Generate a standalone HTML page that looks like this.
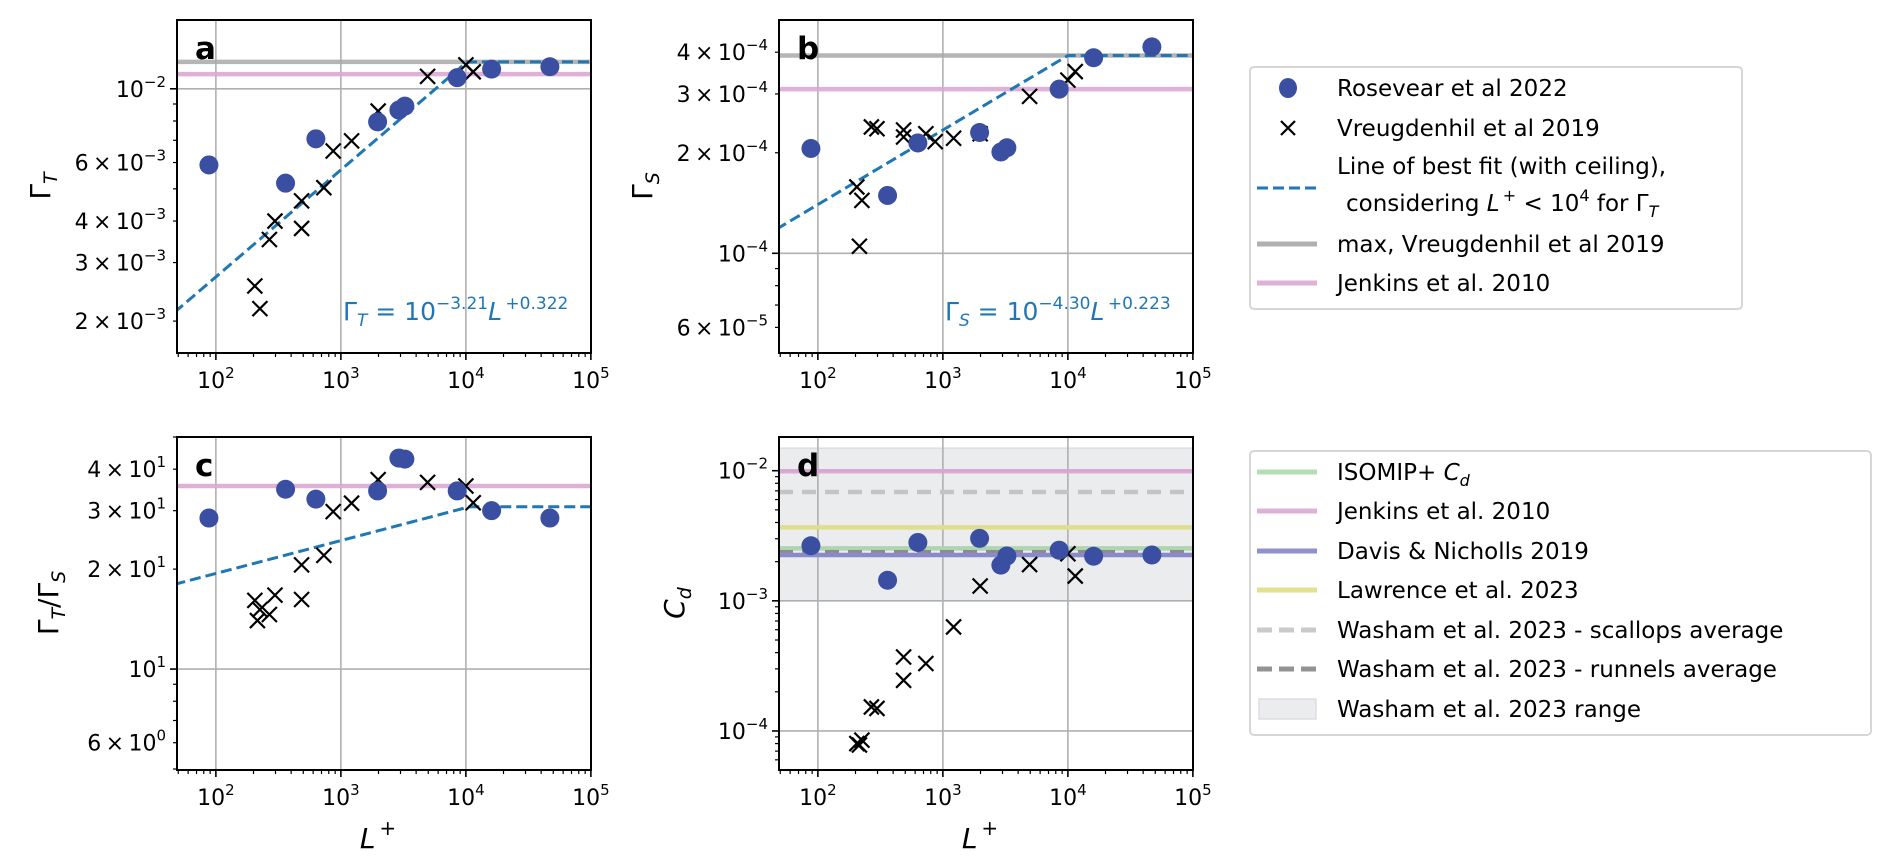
<!DOCTYPE html>
<html><head><meta charset="utf-8"><title>Transfer coefficients vs L+</title>
<style>
html,body{margin:0;padding:0;background:#fff;}
svg{display:block;font-family:"DejaVu Sans","Liberation Sans",sans-serif;}
</style></head>
<body>
<svg id="fig" width="1892" height="868" viewBox="0 0 1892 868" xmlns="http://www.w3.org/2000/svg"></svg>
<script>
// ---------- data ----------
const L_ROSE = [88, 361, 631, 1967, 2911, 3251, 8520, 16070, 47000];
const L_VREU = [205, 215, 225, 268, 297, 485, 485, 731, 868, 1218, 1987, 4940, 10000, 11450];
const GT_ROSE = [5.9e-3, 5.2e-3, 7.07e-3, 7.95e-3, 8.63e-3, 8.87e-3, 1.08e-2, 1.146e-2, 1.165e-2];
const GT_VREU = [2.55e-3, 1.47e-3, 2.18e-3, 3.52e-3, 4.0e-3, 3.8e-3, 4.6e-3, 5.04e-3, 6.5e-3, 6.97e-3, 8.57e-3, 1.09e-2, 1.18e-2, 1.125e-2];
const GS_ROSE = [2.06e-4, 1.49e-4, 2.14e-4, 2.30e-4, 2.01e-4, 2.07e-4, 3.1e-4, 3.85e-4, 4.15e-4];
const GS_VREU = [1.58e-4, 1.05e-4, 1.44e-4, 2.39e-4, 2.36e-4, 2.34e-4, 2.23e-4, 2.28e-4, 2.16e-4, 2.21e-4, 2.28e-4, 2.95e-4, 3.3e-4, 3.5e-4];
const RATIO_ROSE = [28.5, 34.8, 32.5, 34.4, 43.2, 42.9, 34.4, 30.0, 28.5];
const RATIO_VREU = [16.1, 14.0, 15.1, 14.6, 16.7, 16.2, 20.6, 22.0, 29.8, 31.6, 37.2, 36.5, 35.6, 31.7];
const CD_ROSE = [2.65e-3, 1.44e-3, 2.81e-3, 3.02e-3, 1.88e-3, 2.21e-3, 2.45e-3, 2.2e-3, 2.25e-3];
const CD_VREU = [8.0e-5, 7.8e-5, 8.5e-5, 1.53e-4, 1.49e-4, 2.45e-4, 3.7e-4, 3.3e-4, null, 6.3e-4, 1.3e-3, 1.9e-3, 2.3e-3, 1.55e-3];
const FIT_T = [-3.21, 0.322];
const FIT_S = [-4.30, 0.223];
const MAX_T = 1.205e-2, MAX_S = 3.91e-4;
const JENKINS_T = 1.107e-2, JENKINS_S = 3.1e-4, JENKINS_R = 35.6, JENKINS_CD = 9.9e-3;
const ISOMIP_CD = 2.53e-3, DAVIS_CD = 2.25e-3, LAWRENCE_CD = 3.67e-3;
const SCALLOPS_CD = 6.86e-3, RUNNELS_CD = 2.36e-3;
const RANGE_CD = [1.0e-3, 1.49e-2];
const X_TICKS = [2, 3, 4, 5];

// ---------- helpers ----------
const NS = "http://www.w3.org/2000/svg";
const svg = document.getElementById("fig");
function el(tag, attrs, parent) {
  const e = document.createElementNS(NS, tag);
  for (const k in attrs) e.setAttribute(k, attrs[k]);
  (parent || svg).appendChild(e);
  return e;
}
const XMIN = 1.689, DEC = 125;
function makePanel(left, top, ylo, yhi, id) {
  const w = 414, h = 333;
  const p = {left, top, w, h, ylo, yhi, id};
  p.x = v => left + (Math.log10(v) - XMIN) * DEC;
  p.y = v => top + h - (Math.log10(v) - ylo) / (yhi - ylo) * h;
  const cp = el("clipPath", {id: "clip-" + id});
  el("rect", {x: left, y: top, width: w, height: h}, cp);
  p.g = el("g", {"clip-path": "url(#clip-" + id + ")"});
  
  
  return p;
}
function gridAndTicks(p, majors, labeledMinors) {
  // vertical grid
  for (const e of X_TICKS) {
    if (e >= 5) continue;
    const gx = p.x(Math.pow(10, e));
    const l = el("line", {x1: gx, x2: gx, y1: p.top, y2: p.top + p.h, stroke: "#b0b0b0", "stroke-width": 1.6}, p.g);
    
    
  }
  for (const m of majors) {
    const gy = p.y(Math.pow(10, m));
    const l = el("line", {x1: p.left, x2: p.left + p.w, y1: gy, y2: gy, stroke: "#b0b0b0", "stroke-width": 1.6}, p.g);
    
    
  }
}
function axesFrame(p, majors, labeledMinors, showXLabels) {
  const ax = el("g", {});
  
  
  el("rect", {x: p.left, y: p.top, width: p.w, height: p.h, fill: "none", stroke: "#000", "stroke-width": 2}, ax);
  // x ticks
  for (let d = 1; d <= 5; d++) {
    for (let k = 1; k <= 9; k++) {
      const v = k * Math.pow(10, d);
      const lv = Math.log10(v);
      if (lv < XMIN - 1e-6 || lv > 5 + 1e-6) continue;
      const tx = p.x(v);
      const major = (k === 1);
      el("line", {x1: tx, x2: tx, y1: p.top + p.h, y2: p.top + p.h + (major ? 7 : 4), stroke: "#000", "stroke-width": major ? 1.6 : 1.2}, ax);
    }
  }
  for (const e of X_TICKS) {
    const t = el("text", {x: p.x(Math.pow(10, e)), y: p.top + p.h + 35, "font-size": 22, "text-anchor": "middle", fill: "#000"}, ax);
    
    
    t.appendChild(document.createTextNode("10"));
    const s = el("tspan", {"font-size": 15, dy: -10}, t);
    s.textContent = String(e);
  }
  // y ticks
  for (let d = -6; d <= 2; d++) {
    for (let k = 1; k <= 9; k++) {
      const v = k * Math.pow(10, d);
      const lv = Math.log10(v);
      if (lv < p.ylo - 1e-4 || lv > p.yhi + 1e-4) continue;
      const ty = p.y(v);
      const major = (k === 1);
      el("line", {x1: p.left, x2: p.left - (major ? 7 : 4), y1: ty, y2: ty, stroke: "#000", "stroke-width": major ? 1.6 : 1.2}, ax);
    }
  }
  for (const m of majors) {
    const t = el("text", {x: p.left - 11, y: p.y(Math.pow(10, m)) + 8, "font-size": 22, "text-anchor": "end", fill: "#000"}, ax);
    
    
    t.appendChild(document.createTextNode("10"));
    const s = el("tspan", {"font-size": 15, dy: -10}, t);
    s.textContent = (m < 0 ? "\u2212" + (-m) : String(m));
  }
  for (const [k, e] of labeledMinors) {
    const t = el("text", {x: p.left - 11, y: p.y(k * Math.pow(10, e)) + 8, "font-size": 22, "text-anchor": "end", fill: "#000"}, ax);
    
    
    t.appendChild(document.createTextNode(k + "\u2009\u00d7\u200910"));
    const s = el("tspan", {"font-size": 15, dy: -10}, t);
    s.textContent = (e < 0 ? "\u2212" + (-e) : String(e));
  }
  return ax;
}
function hline(p, v, color, width, dash, name, opacity) {
  const a = {x1: p.left, x2: p.left + p.w, y1: p.y(v), y2: p.y(v), stroke: color, "stroke-width": width};
  if (dash) a["stroke-dasharray"] = dash;
  if (opacity) a["stroke-opacity"] = opacity;
  const l = el("line", a, p.g);
  
  
}
function fitLine(p, fitA, fitB, ceiling, name) {
  // compute ratio fits when arrays given
  const f = L => {
    let v;
    if (Array.isArray(fitA[0])) {
      const t = Math.min(Math.pow(10, fitA[0][0]) * Math.pow(L, fitA[0][1]), fitA[1]);
      const s = Math.min(Math.pow(10, fitB[0][0]) * Math.pow(L, fitB[0][1]), fitB[1]);
      v = t / s;
    } else {
      v = Math.min(Math.pow(10, fitA[0]) * Math.pow(L, fitA[1]), ceiling);
    }
    return v;
  };
  const pts = [];
  for (let lv = XMIN - 0.02; lv <= 5.02; lv += 0.01) {
    const L = Math.pow(10, lv);
    pts.push(p.x(L).toFixed(2) + "," + p.y(f(L)).toFixed(2));
  }
  const pl = el("polyline", {points: pts.join(" "), fill: "none", stroke: "#1f77b4", "stroke-width": 3, "stroke-dasharray": "11,5"}, p.g);
  
  
}
function dots(p, xs, ys, name) {
  xs.forEach((L, i) => {
    if (ys[i] == null) return;
    const c = el("circle", {cx: p.x(L), cy: p.y(ys[i]), r: 9.5, fill: "#3a4ea2"}, p.g);
    
    
  });
}
function crosses(p, xs, ys, name) {
  xs.forEach((L, i) => {
    if (ys[i] == null) return;
    const cx = p.x(L), cy = p.y(ys[i]), s = 7.5;
    const g = el("path", {d: `M${cx - s},${cy - s}L${cx + s},${cy + s}M${cx - s},${cy + s}L${cx + s},${cy - s}`, stroke: "#000", "stroke-width": 2.2, fill: "none"}, p.g);
    
    
  });
}
function panelLetter(p, ch) {
  const t = el("text", {x: p.left + 18, y: p.top + 39, "font-size": 31, "font-weight": "bold", fill: "#000"});
  
  
  t.textContent = ch;
}
function ylabel(x, y, main, sub, name, extra) {
  const t = el("text", {x: 0, y: 0, "font-size": 28, "text-anchor": "middle", fill: "#000", transform: `translate(${x},${y}) rotate(-90)`});
  
  
  const parts = extra || [[main, sub]];
  parts.forEach(([m, s], i) => {
    const a = el("tspan", {}, t); a.textContent = m;
    const b = el("tspan", {"font-size": 19, dy: 7, "font-style": "italic"}, t); b.textContent = s;
    if (i < parts.length - 1) { const c = el("tspan", {dy: -7}, t); c.textContent = "/"; }
  });
}
function xlabel(p) {
  const t = el("text", {x: p.left + p.w / 2 - 6, y: 848, "font-size": 28, "text-anchor": "middle", fill: "#000"});
  
  
  const a = el("tspan", {"font-style": "italic"}, t); a.textContent = "L";
  const b = el("tspan", {"font-size": 20, dy: -13}, t); b.textContent = "\u2009+";
}
function fitText(x, y, sym, expo, pw, name) {
  const t = el("text", {x, y, "font-size": 25, fill: "#1f77b4"});
  
  
  const a = el("tspan", {}, t); a.textContent = "\u0393";
  const b = el("tspan", {"font-size": 17, dy: 6, "font-style": "italic"}, t); b.textContent = sym;
  const c = el("tspan", {dy: -6}, t); c.textContent = " = 10";
  const d = el("tspan", {"font-size": 17, dy: -11}, t); d.textContent = "\u2212" + expo;
  const e = el("tspan", {dy: 11, "font-style": "italic"}, t); e.textContent = "L";
  const f = el("tspan", {"font-size": 17, dy: -11}, t); f.textContent = "\u2009+" + pw;
}

// ---------- panels ----------
const pa = makePanel(177, 20, -2.795, -1.793, "a");
const pb = makePanel(779, 20, -4.2985, -3.3015, "b");
const pc = makePanel(177, 437, 0.696, 1.699, "c");
const pd = makePanel(779, 437, -4.30, -1.741, "d");

// panel d range band first
{
  const r = el("rect", {x: pd.left, y: pd.y(RANGE_CD[1]), width: pd.w, height: pd.y(RANGE_CD[0]) - pd.y(RANGE_CD[1]), fill: "#ebecee", stroke: "#dcdde0", "stroke-width": 1.5}, pd.g);
  
  
}

gridAndTicks(pa, [-2]);
gridAndTicks(pb, [-4]);
gridAndTicks(pc, [1]);
gridAndTicks(pd, [-2, -3, -4]);

// a
hline(pa, MAX_T, "#a8a8a8", 4.5, null, "max-vreugdenhil-line", 0.85);
hline(pa, JENKINS_T, "#dba8d4", 4.5, null, "jenkins-line", 0.9);
fitLine(pa, FIT_T, null, MAX_T, "best-fit-line");
crosses(pa, L_VREU, GT_VREU, "vreugdenhil-point");
dots(pa, L_ROSE, GT_ROSE, "rosevear-point");
// b
hline(pb, MAX_S, "#a8a8a8", 4.5, null, "max-vreugdenhil-line", 0.85);
hline(pb, JENKINS_S, "#dba8d4", 4.5, null, "jenkins-line", 0.9);
fitLine(pb, FIT_S, null, MAX_S, "best-fit-line");
crosses(pb, L_VREU, GS_VREU, "vreugdenhil-point");
dots(pb, L_ROSE, GS_ROSE, "rosevear-point");
// c
hline(pc, JENKINS_R, "#dba8d4", 4.5, null, "jenkins-line", 0.9);
fitLine(pc, [FIT_T, MAX_T], [FIT_S, MAX_S], null, "best-fit-line");
crosses(pc, L_VREU, RATIO_VREU, "vreugdenhil-point");
dots(pc, L_ROSE, RATIO_ROSE, "rosevear-point");
// d
hline(pd, JENKINS_CD, "#d9a3d3", 4.5, null, "jenkins-line", 0.9);
hline(pd, SCALLOPS_CD, "#c4c4c4", 4.5, "14,9", "scallops-average-line");
hline(pd, LAWRENCE_CD, "#dede8c", 4.5, null, "lawrence-line");
hline(pd, ISOMIP_CD, "#aed6ae", 4.5, null, "isomip-line");
hline(pd, RUNNELS_CD, "#8c8c8c", 4.5, "14,9", "runnels-average-line");
hline(pd, DAVIS_CD, "#8a8acb", 4.5, null, "davis-nicholls-line");
crosses(pd, L_VREU, CD_VREU, "vreugdenhil-point");
dots(pd, L_ROSE, CD_ROSE, "rosevear-point");

axesFrame(pa, [-2], [[2, -3], [3, -3], [4, -3], [6, -3]]);
axesFrame(pb, [-4], [[6, -5], [2, -4], [3, -4], [4, -4]]);
axesFrame(pc, [1], [[6, 0], [2, 1], [3, 1], [4, 1]]);
axesFrame(pd, [-2, -3, -4], []);

panelLetter(pa, "a"); panelLetter(pb, "b"); panelLetter(pc, "c"); panelLetter(pd, "d");

ylabel(50, 186, "\u0393", "T", "y-axis-title-gamma-t");
ylabel(652, 186, "\u0393", "S", "y-axis-title-gamma-s");
ylabel(58, 603, null, null, "y-axis-title-ratio", [["\u0393", "T"], ["\u0393", "S"]]);
{
  const t = el("text", {x: 0, y: 0, "font-size": 28, "text-anchor": "middle", fill: "#000", transform: "translate(684,603) rotate(-90)"});
  
  
  const a = el("tspan", {"font-style": "italic"}, t); a.textContent = "C";
  const b = el("tspan", {"font-size": 19, dy: 7, "font-style": "italic"}, t); b.textContent = "d";
}
xlabel(pc); xlabel(pd);

fitText(343, 320, "T", "3.21", "0.322", "fit-equation-t");
fitText(945, 320, "S", "4.30", "0.223", "fit-equation-s");

// ---------- legends ----------
function legendBox(x, y, w, h, name) {
  const r = el("rect", {x, y, width: w, height: h, rx: 4, fill: "#fff", stroke: "#d6d6d6", "stroke-width": 2});
  
  
}
function legText(y, txt, name, italicSub) {
  const t = el("text", {x: 1337, y: y + 8, "font-size": 23, fill: "#000"});
  
  
  t.textContent = txt;
  return t;
}
function legLine(y, color, dash, name, w) {
  const a = {x1: 1257, x2: 1317, y1: y, y2: y, stroke: color, "stroke-width": w || 4.5};
  if (dash) a["stroke-dasharray"] = dash;
  const l = el("line", a);
  
  
}
legendBox(1250, 67, 492, 242, "legend-top");
{
  const c = el("ellipse", {cx: 1288, cy: 88, rx: 9, ry: 10, fill: "#3a4ea2"});
  
  
  legText(88, "Rosevear et al 2022", "legend-entry-rosevear");
  const x = el("path", {d: "M1281,121L1295,135M1281,135L1295,121", stroke: "#000", "stroke-width": 2.2});
  
  
  legText(128, "Vreugdenhil et al 2019", "legend-entry-vreugdenhil");
  legLine(188, "#1f77b4", "11,5", "legend-marker-fit", 3);
  legText(166, "Line of best fit (with ceiling),", "legend-entry-fit");
  const t = el("text", {x: 1346, y: 211, "font-size": 23, fill: "#000"});
  
  
  const s1 = el("tspan", {}, t); s1.textContent = "considering ";
  const s2 = el("tspan", {"font-style": "italic"}, t); s2.textContent = "L";
  const s3 = el("tspan", {"font-size": 16, dy: -10}, t); s3.textContent = "\u2009+";
  const s4 = el("tspan", {dy: 10}, t); s4.textContent = " < 10";
  const s5 = el("tspan", {"font-size": 16, dy: -10}, t); s5.textContent = "4";
  const s6 = el("tspan", {dy: 10}, t); s6.textContent = " for \u0393";
  const s7 = el("tspan", {"font-size": 16, dy: 6, "font-style": "italic"}, t); s7.textContent = "T";
  legLine(244, "#b0b0b0", null, "legend-marker-max", 5);
  legText(244, "max, Vreugdenhil et al 2019", "legend-entry-max");
  legLine(283, "#dfb1d6", null, "legend-marker-jenkins", 5);
  legText(283, "Jenkins et al. 2010", "legend-entry-jenkins");
}
legendBox(1250, 451, 621, 284, "legend-bottom");
{
  legLine(472, "#b6dcb6", null, "legend-marker-isomip", 5);
  const t = legText(472, "ISOMIP+ ", "legend-entry-isomip");
  const c = el("tspan", {"font-style": "italic"}, t); c.textContent = "C";
  const d = el("tspan", {"font-size": 16, dy: 6, "font-style": "italic"}, t); d.textContent = "d";
  legLine(511, "#dfb1d6", null, "legend-marker-jenkins-cd", 5);
  legText(511, "Jenkins et al. 2010", "legend-entry-jenkins-cd");
  legLine(551, "#9090cc", null, "legend-marker-davis", 5);
  legText(551, "Davis & Nicholls 2019", "legend-entry-davis");
  legLine(590, "#e2e28e", null, "legend-marker-lawrence", 5);
  legText(590, "Lawrence et al. 2023", "legend-entry-lawrence");
  legLine(630, "#cacaca", "15,7", "legend-marker-scallops", 5);
  legText(630, "Washam et al. 2023 - scallops average", "legend-entry-scallops");
  legLine(669, "#939393", "15,7", "legend-marker-runnels", 5);
  legText(669, "Washam et al. 2023 - runnels average", "legend-entry-runnels");
  const r = el("rect", {x: 1259, y: 699, width: 57, height: 20, fill: "#ebecee", stroke: "#dcdde0", "stroke-width": 1.5});
  
  
  legText(709, "Washam et al. 2023 range", "legend-entry-range");
}
</script>
</body></html>
